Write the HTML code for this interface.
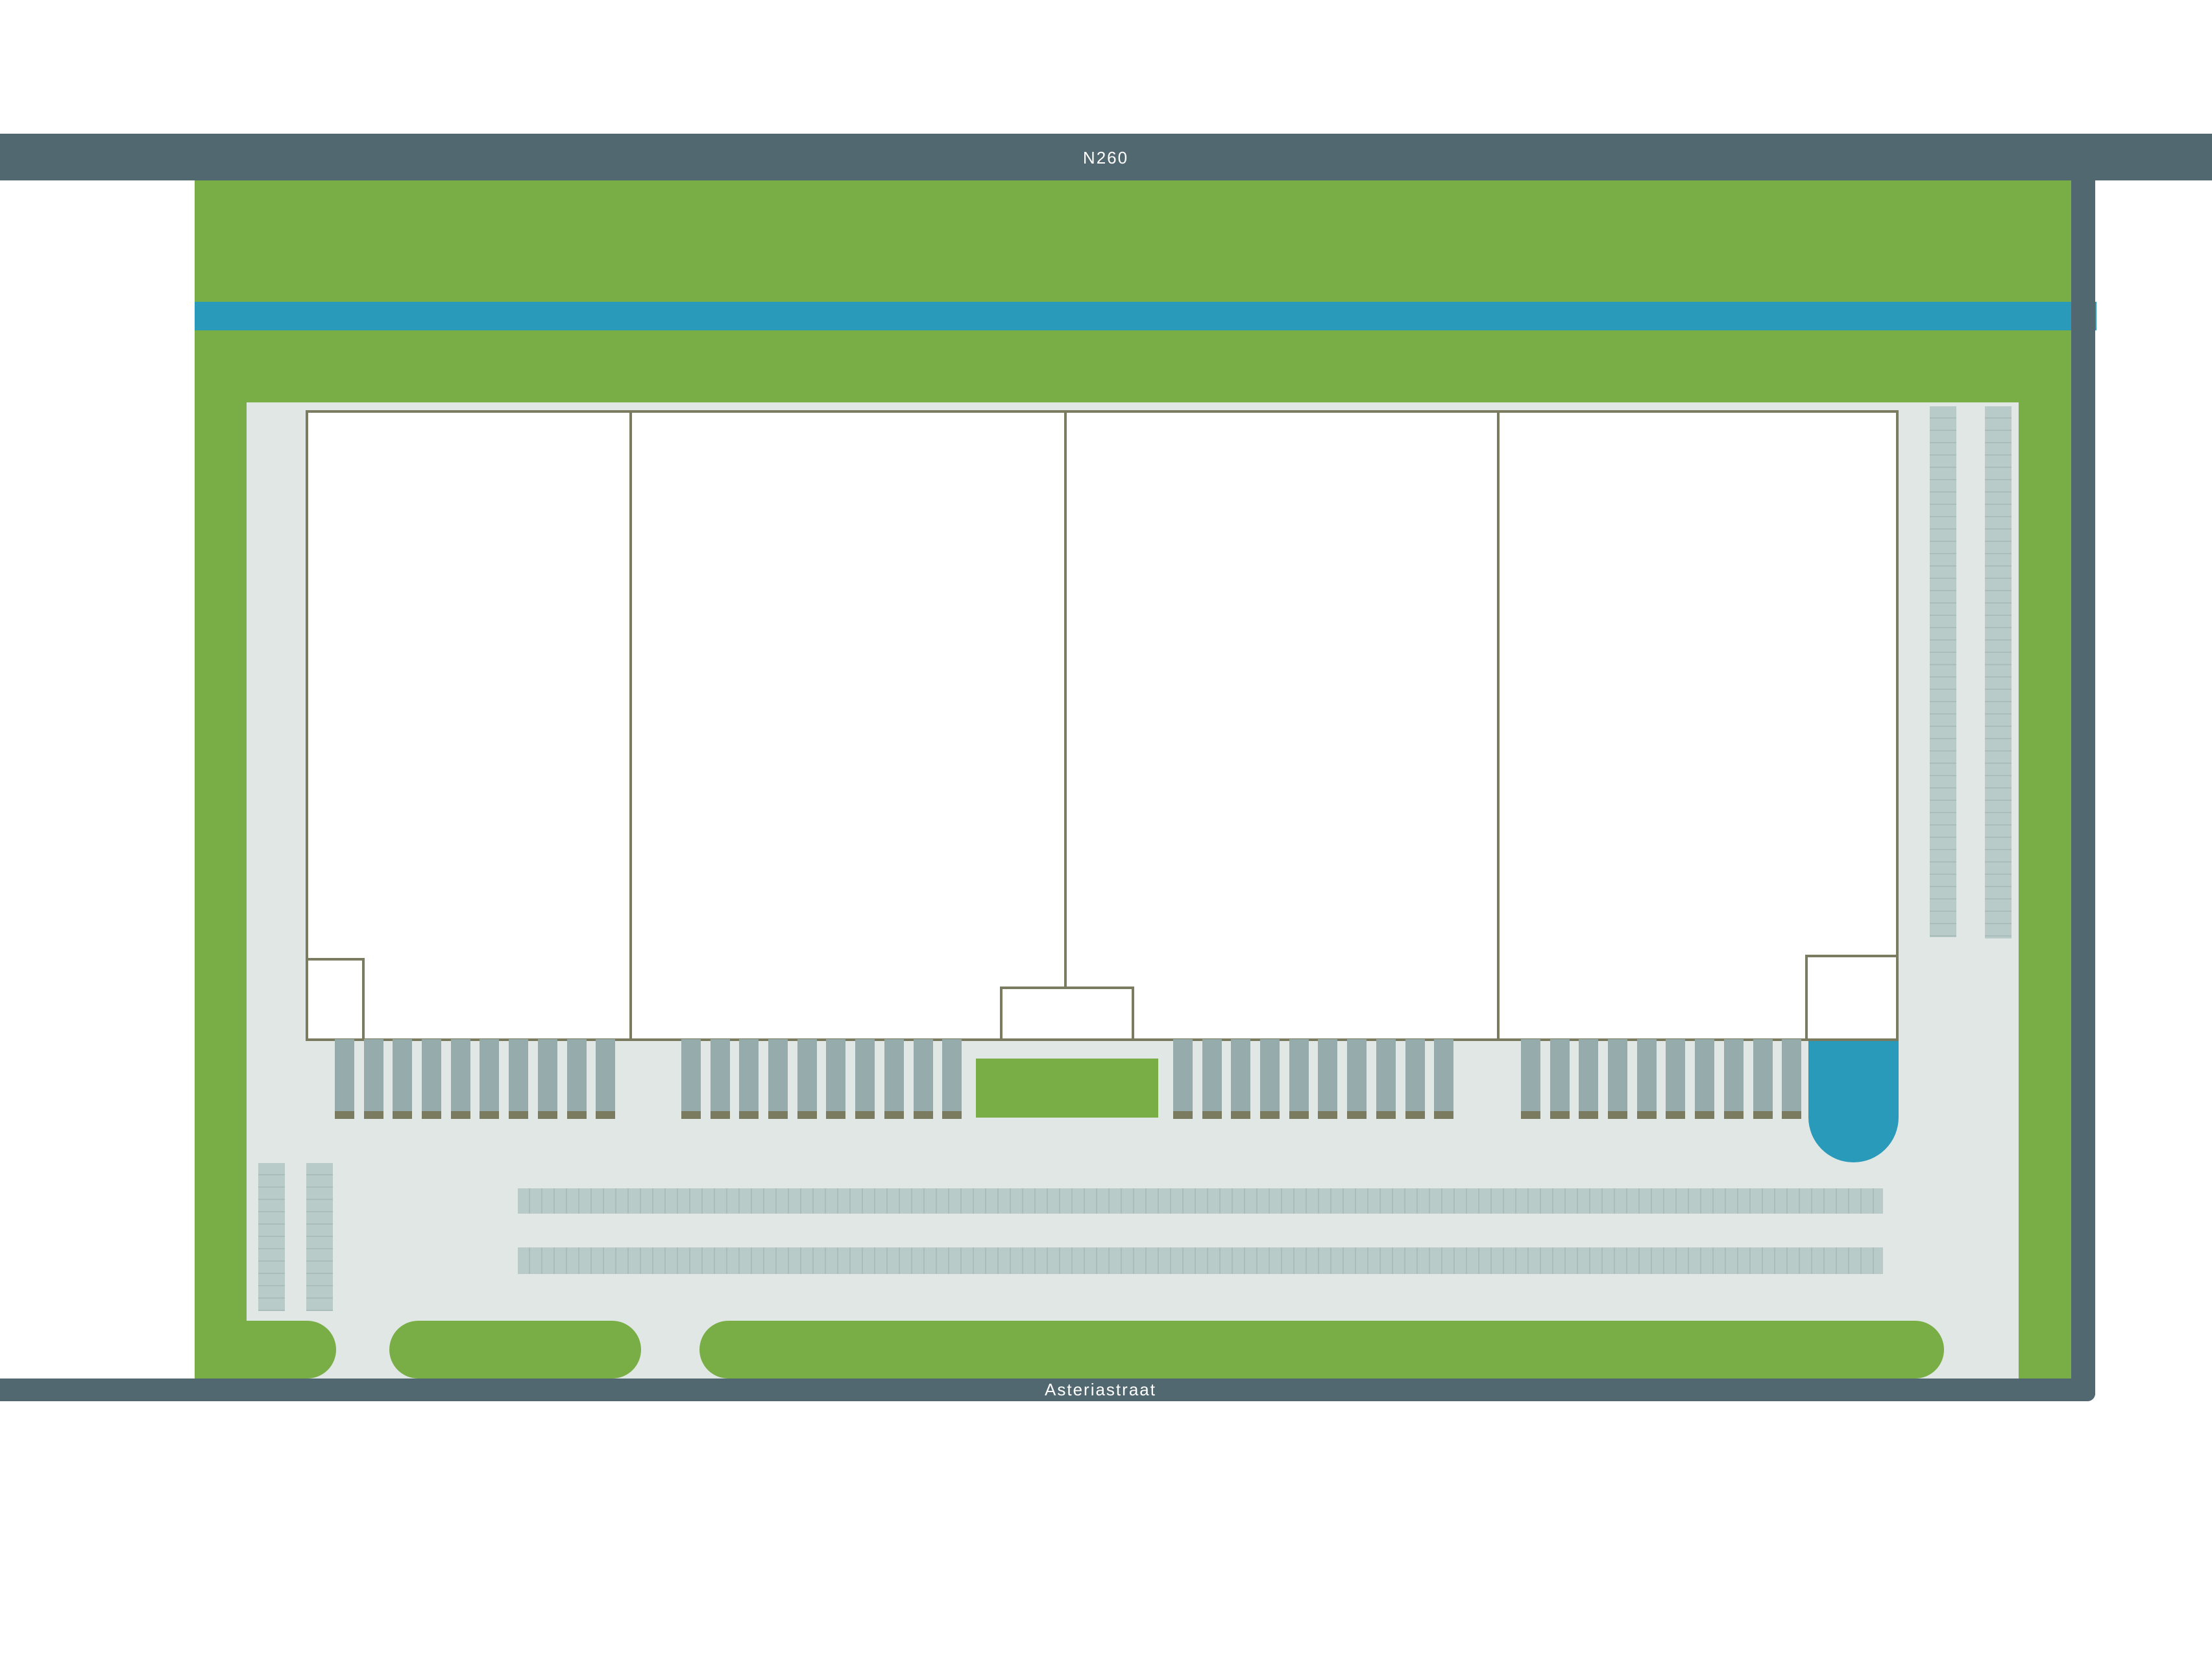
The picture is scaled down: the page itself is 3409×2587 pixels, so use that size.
<!DOCTYPE html>
<html><head><meta charset="utf-8"><style>
body{margin:0;width:3409px;height:2587px;background:#fff;position:relative;overflow:hidden;font-family:"Liberation Sans",sans-serif}
div{position:absolute;box-sizing:border-box}
.road{background:#526870}
.g{background:#79ad45}
.ol{border:4px solid #7b7c5f;background:#fff}
.dock{width:30px;height:123px;background:#95abac;border-bottom:12px solid #7b7c5f}
.ph{background:repeating-linear-gradient(90deg,#b8cbc8 0 17px,#a9bdba 17px 19px)}
.pv{background:repeating-linear-gradient(180deg,#b8cbc8 0 17px,#a9bdba 17px 19px)}
.t{color:#fff;font-size:26px;letter-spacing:2px;text-align:center;width:400px}
</style></head><body>
<div class="road" style="left:0;top:206px;width:3409px;height:72px"></div>
<div class="t" style="left:1504px;top:228px">N260</div>
<div class="g" style="left:300px;top:278px;width:2896px;height:1846px"></div>
<div style="left:300px;top:465px;width:2931px;height:44px;background:#2a9aba"></div>
<div class="road" style="left:3192px;top:206px;width:37px;height:1953px;border-radius:0 0 12px 0"></div>
<div style="left:380px;top:620px;width:2731px;height:1504px;background:#e0e7e5"></div>
<div class="road" style="left:0;top:2124px;width:3229px;height:35px;border-radius:0 0 12px 0"></div>
<div class="t" style="left:1496px;top:2126px">Asteriastraat</div>

<div class="ol" style="left:471px;top:632px;width:2455px;height:972px"></div>
<div style="left:970px;top:632px;width:4px;height:972px;background:#7b7c5f"></div>
<div style="left:1640px;top:632px;width:4px;height:892px;background:#7b7c5f"></div>
<div style="left:2307px;top:632px;width:4px;height:972px;background:#7b7c5f"></div>
<div class="ol" style="left:471px;top:1476px;width:91px;height:128px"></div>
<div class="ol" style="left:1541px;top:1520px;width:207px;height:84px"></div>
<div class="ol" style="left:2782px;top:1471px;width:144px;height:133px"></div>

<div style="left:2787px;top:1604px;width:139px;height:187px;background:#2a9aba;border-radius:0 0 70px 70px / 0 0 70px 70px"></div>
<div class="g" style="left:1504px;top:1631px;width:281px;height:91px"></div>

<div style="left:516px;top:1601px;display:flex;gap:14.7px">
<div class="dock" style="position:static"></div><div class="dock" style="position:static"></div><div class="dock" style="position:static"></div><div class="dock" style="position:static"></div><div class="dock" style="position:static"></div><div class="dock" style="position:static"></div><div class="dock" style="position:static"></div><div class="dock" style="position:static"></div><div class="dock" style="position:static"></div><div class="dock" style="position:static"></div></div>
<div style="left:1050px;top:1601px;display:flex;gap:14.7px">
<div class="dock" style="position:static"></div><div class="dock" style="position:static"></div><div class="dock" style="position:static"></div><div class="dock" style="position:static"></div><div class="dock" style="position:static"></div><div class="dock" style="position:static"></div><div class="dock" style="position:static"></div><div class="dock" style="position:static"></div><div class="dock" style="position:static"></div><div class="dock" style="position:static"></div></div>
<div style="left:1808px;top:1601px;display:flex;gap:14.7px">
<div class="dock" style="position:static"></div><div class="dock" style="position:static"></div><div class="dock" style="position:static"></div><div class="dock" style="position:static"></div><div class="dock" style="position:static"></div><div class="dock" style="position:static"></div><div class="dock" style="position:static"></div><div class="dock" style="position:static"></div><div class="dock" style="position:static"></div><div class="dock" style="position:static"></div></div>
<div style="left:2344px;top:1601px;display:flex;gap:14.7px">
<div class="dock" style="position:static"></div><div class="dock" style="position:static"></div><div class="dock" style="position:static"></div><div class="dock" style="position:static"></div><div class="dock" style="position:static"></div><div class="dock" style="position:static"></div><div class="dock" style="position:static"></div><div class="dock" style="position:static"></div><div class="dock" style="position:static"></div><div class="dock" style="position:static"></div></div>

<div class="ph" style="left:798px;top:1831px;width:2104px;height:39px"></div>
<div class="ph" style="left:798px;top:1922px;width:2104px;height:41px"></div>
<div class="pv" style="left:398px;top:1792px;width:41px;height:228px"></div>
<div class="pv" style="left:472px;top:1792px;width:41px;height:228px"></div>
<div class="pv" style="left:2974px;top:626px;width:41px;height:818px"></div>
<div class="pv" style="left:3059px;top:626px;width:41px;height:820px"></div>

<div class="g" style="left:300px;top:2035px;width:218px;height:89px;border-radius:0 45px 45px 0"></div>
<div class="g" style="left:600px;top:2035px;width:388px;height:89px;border-radius:45px"></div>
<div class="g" style="left:1078px;top:2035px;width:1918px;height:89px;border-radius:45px"></div>
</body></html>
